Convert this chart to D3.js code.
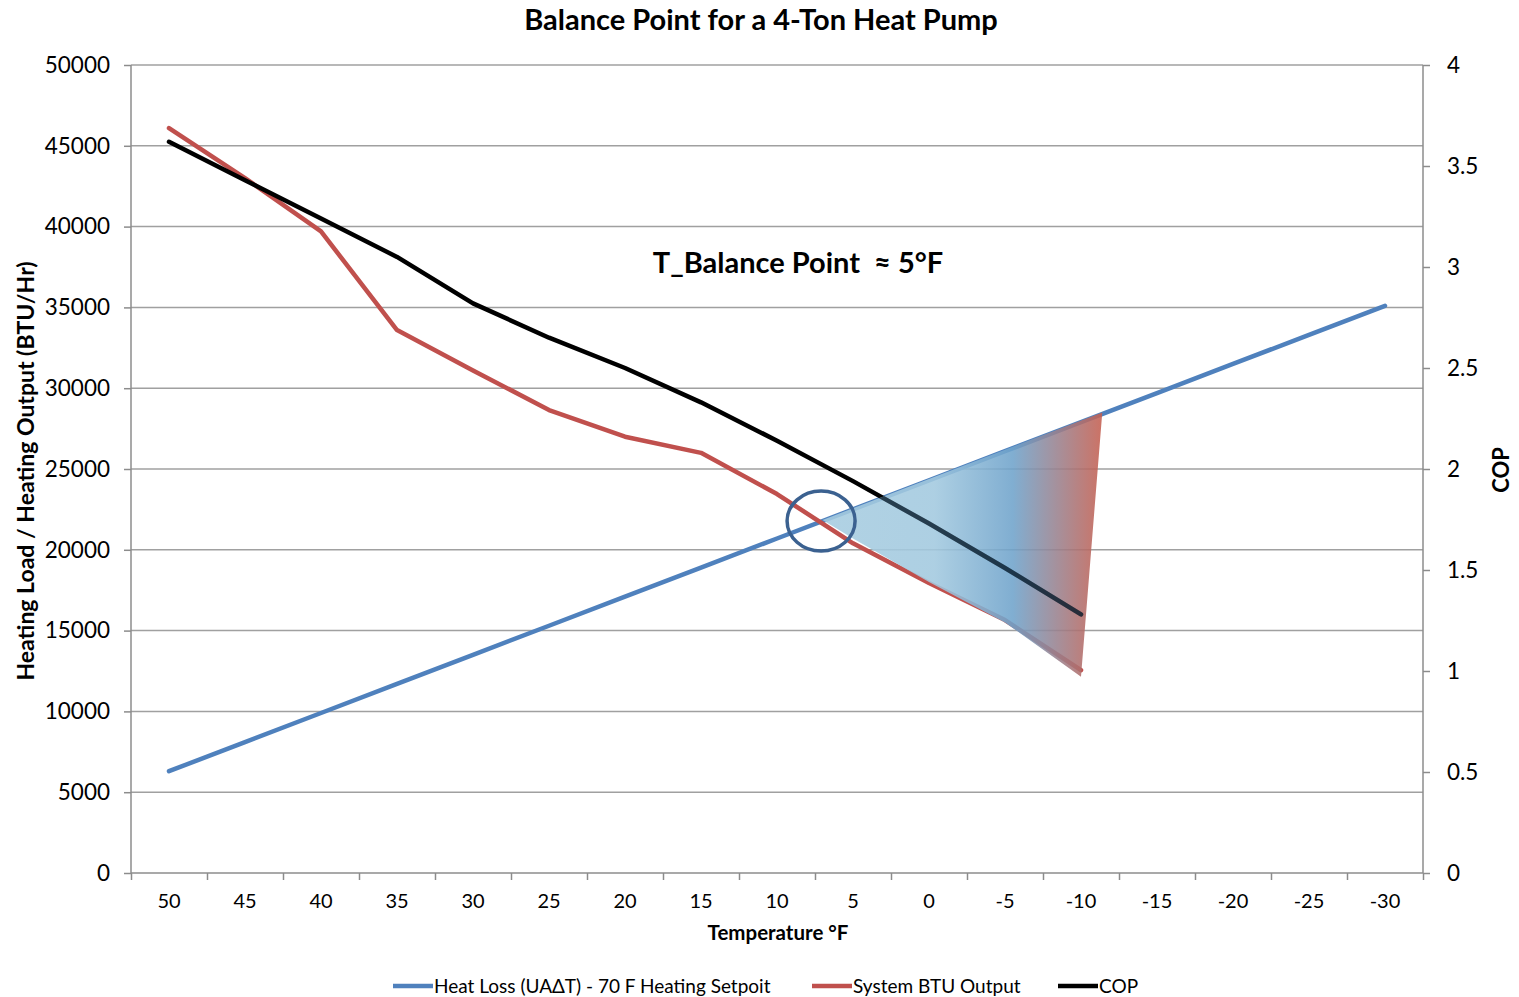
<!DOCTYPE html>
<html>
<head>
<meta charset="utf-8">
<script src="https://cdn.jsdelivr.net/npm/d3@7"></script>
<style>
  body { margin: 0; background: #fff; }
  text { font-family: Lato, "Open Sans", sans-serif; fill: #000; }
</style>
</head>
<body>
<div id="chart"></div>
<script>
// temperatures on the x axis (deg F)
const temps = [50,45,40,35,30,25,20,15,10,5,0,-5,-10,-15,-20,-25,-30];
// heat loss of the house, BTU/hr
const heatLoss = [6300,8100,9900,11700,13500,15300,17100,18900,20700,22500,24300,26100,27900,29700,31500,33300,35100];
// heat pump output, BTU/hr (only down to -10)
const btuOutput = [46100,43000,39700,33600,31100,28650,27000,26000,23450,20400,17950,15650,12550];
// coefficient of performance
const cop = [3.62,3.43,3.24,3.05,2.82,2.65,2.50,2.33,2.14,1.94,1.73,1.51,1.28];
// shaded zone below the balance point [temp, BTU/hr]
const shadeZone = [[7,21850],[-11.4,28500],[-10,12150],[-5,15500],[0,18000],[5,20700]];
const balancePoint = [7.1, 21780];

const leftTicks = d3.range(0, 50001, 5000);
const rightTicks = d3.range(0, 4.01, 0.5);

const width = 1519, height = 997;
const margin = {top: 65, right: 96, bottom: 124, left: 131};
const svg = d3.select("#chart").append("svg").attr("width", width).attr("height", height);

const x = d3.scaleLinear().domain([52.5, -32.5]).range([margin.left, width - margin.right]);
const y = d3.scaleLinear().domain([0, 50000]).range([height - margin.bottom, margin.top]);
const y2 = d3.scaleLinear().domain([0, 4]).range([height - margin.bottom, margin.top]);

const plotL = margin.left, plotR = width - margin.right, plotB = height - margin.bottom;

// gridlines
svg.append("g").selectAll("line").data(leftTicks.slice(1)).enter().append("line")
  .attr("x1", plotL).attr("x2", plotR)
  .attr("y1", d => y(d)).attr("y2", d => y(d))
  .attr("stroke", "#a0a0a0").attr("stroke-width", 1.5);

// left axis
const yAxis = svg.append("g").attr("transform", `translate(${plotL},0)`)
  .call(d3.axisLeft(y).tickValues(leftTicks).tickSize(7).tickPadding(14).tickFormat(d3.format("d")));
// right axis
const yAxis2 = svg.append("g").attr("transform", `translate(${plotR},0)`)
  .call(d3.axisRight(y2).tickValues(rightTicks).tickSize(7).tickPadding(17).tickFormat(d => d));
// x axis: ticks between categories
const bounds = d3.range(52.5, -33, -5);
const xAxis = svg.append("g").attr("transform", `translate(0,${plotB})`)
  .call(d3.axisBottom(x).tickValues(bounds).tickSize(7).tickFormat(""));
svg.append("g").selectAll("text").data(temps).enter().append("text")
  .attr("x", d => x(d)).attr("y", plotB + 35)
  .attr("text-anchor", "middle").attr("font-size", 20).text(d => d);

[yAxis, yAxis2, xAxis].forEach(g => {
  g.select(".domain").attr("stroke", "#8c8c8c").attr("stroke-width", 1.5);
  g.selectAll(".tick line").attr("stroke", "#8c8c8c").attr("stroke-width", 1.5);
  g.selectAll(".tick text").attr("font-size", 22.5).attr("font-family", "Lato, sans-serif").attr("fill", "#000");
});
yAxis.select(".domain").attr("d", `M0,${plotB}V${margin.top}`);
yAxis2.select(".domain").attr("d", `M0,${plotB}V${margin.top}`);
xAxis.select(".domain").attr("d", `M${plotL},0H${plotR}`);

// series
const lineL = d3.line().x((d, i) => x(temps[i])).y(d => y(d));
const lineR = d3.line().x((d, i) => x(temps[i])).y(d => y2(d));
const shadeLine = d3.line().x(d => x(d[0])).y(d => y(d[1])).curve(d3.curveLinearClosed);

svg.append("path").datum(heatLoss).attr("d", lineL)
  .attr("fill", "none").attr("stroke", "#4f81bd").attr("stroke-width", 4.5).attr("stroke-linecap", "round");
svg.append("path").datum(btuOutput).attr("d", lineL)
  .attr("fill", "none").attr("stroke", "#c0504d").attr("stroke-width", 4.5).attr("stroke-linecap", "round").attr("stroke-linejoin", "round");
svg.append("path").datum(cop).attr("d", lineR)
  .attr("fill", "none").attr("stroke", "#000").attr("stroke-width", 4.5).attr("stroke-linecap", "round").attr("stroke-linejoin", "round");

// shaded zone
const defs = svg.append("defs");
const grad = defs.append("linearGradient").attr("id", "shade")
  .attr("gradientUnits", "userSpaceOnUse")
  .attr("x1", x(shadeZone[0][0])).attr("x2", x(shadeZone[1][0]))
  .attr("y1", 0).attr("y2", 0);
[[0, "#a6cce0"], [0.4, "#a2c9df"], [0.68, "#6fa3cb"], [1, "#c55f50"]].forEach(s =>
  grad.append("stop").attr("offset", s[0]).attr("stop-color", s[1]));
defs.append("clipPath").attr("id", "shadeClip").append("path").datum(shadeZone).attr("d", shadeLine);

svg.append("path").datum(shadeZone).attr("d", shadeLine)
  .attr("fill", "url(#shade)").attr("opacity", 0.88);
// COP line seen through the shading
svg.append("path").datum(cop).attr("d", lineR).attr("clip-path", "url(#shadeClip)")
  .attr("fill", "none").attr("stroke", "#0b1f30").attr("stroke-opacity", 0.8).attr("stroke-width", 4.5)
  .attr("stroke-linecap", "round").attr("stroke-linejoin", "round");

// balance point marker
svg.append("ellipse").attr("cx", x(balancePoint[0])).attr("cy", y(balancePoint[1]))
  .attr("rx", 34).attr("ry", 30)
  .attr("fill", "none").attr("stroke", "#3b6190").attr("stroke-width", 3.5);

// texts
svg.append("text").attr("x", 761).attr("y", 30).attr("text-anchor", "middle")
  .attr("font-size", 29).attr("font-weight", "bold").text("Balance Point for a 4-Ton Heat Pump");
svg.append("text").attr("x", 798).attr("y", 273).attr("text-anchor", "middle")
  .attr("font-size", 29).attr("font-weight", "bold").attr("xml:space", "preserve").text("T_Balance Point  \u2248 5\u00B0F");
svg.append("text").attr("transform", `translate(34,471) rotate(-90)`).attr("text-anchor", "middle")
  .attr("font-size", 23).attr("font-weight", "bold").text("Heating Load / Heating Output (BTU/Hr)");
svg.append("text").attr("transform", `translate(1509,470) rotate(-90)`).attr("text-anchor", "middle")
  .attr("font-size", 22).attr("font-weight", "bold").text("COP");
svg.append("text").attr("x", 778).attr("y", 940).attr("text-anchor", "middle")
  .attr("font-size", 20.5).attr("font-weight", "bold").text("Temperature \u00B0F");

// legend
const legendItems = [
  {label: "Heat Loss (UA\u0394T) - 70 F Heating Setpoit", color: "#4f81bd", x: 393},
  {label: "System BTU Output", color: "#c0504d", x: 812},
  {label: "COP", color: "#000", x: 1058}
];
const lg = svg.append("g").selectAll("g").data(legendItems).enter().append("g")
  .attr("transform", d => `translate(${d.x},986)`);
lg.append("line").attr("x1", 0).attr("x2", 40).attr("stroke", d => d.color).attr("stroke-width", 4.5);
lg.append("text").attr("x", 41).attr("y", 7).attr("font-size", 19).text(d => d.label);
</script>
</body>
</html>
